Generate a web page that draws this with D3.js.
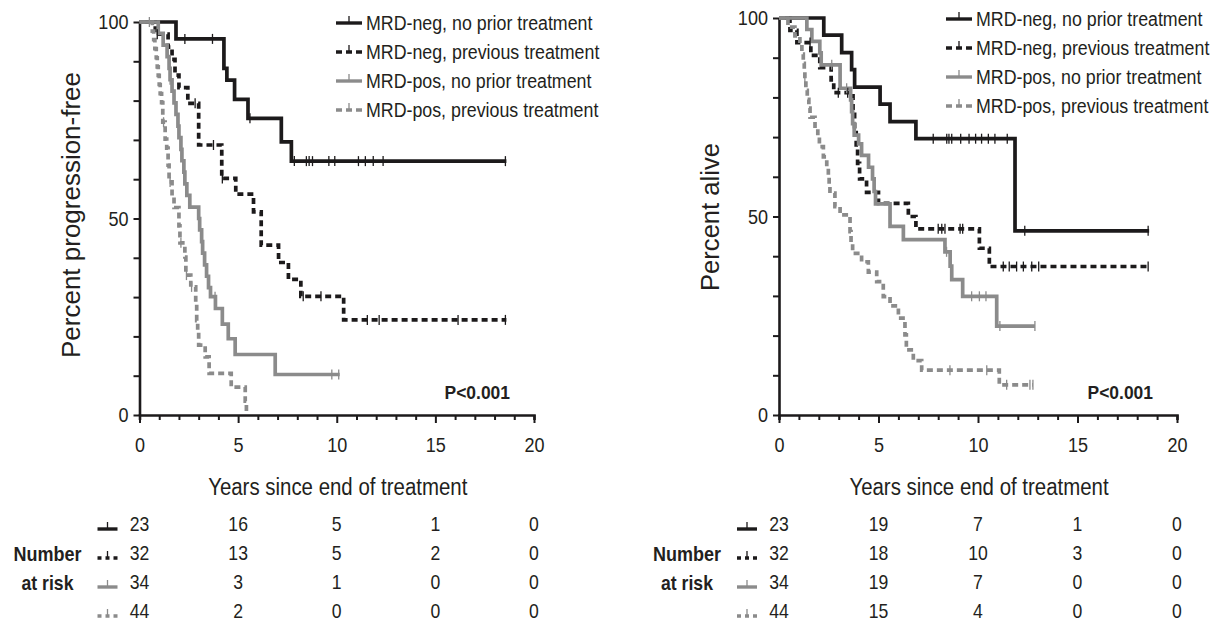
<!DOCTYPE html>
<html>
<head>
<meta charset="utf-8">
<script src="https://cdn.jsdelivr.net/npm/d3@7"></script>
<style>
  body { margin: 0; background: #fff; }
  svg text { font-family: "Liberation Sans", Arial, Helvetica, sans-serif; fill: #231f20; }
</style>
</head>
<body>
<svg id="chart" width="1224" height="625"></svg>
<script>
// ---- Data ---------------------------------------------------------------
const yearTicks = [0, 5, 10, 15, 20];
const groupLabels = [
  "MRD-neg, no prior treatment",
  "MRD-neg, previous treatment",
  "MRD-pos, no prior treatment",
  "MRD-pos, previous treatment"
];

// Progression-free survival: [years, percent after event]
const pfsNegNoPrior = [[1.85, 95.7], [4.28, 88.2], [4.43, 85.2], [4.82, 80.3], [5.5, 75.5], [7.19, 69.5], [7.7, 64.6]];
const pfsNegPrev = [[0.8, 96.9], [1.45, 93.6], [1.65, 90.5], [1.8, 86.5], [2.0, 83.3], [2.45, 79.3], [3.0, 68.7], [4.17, 60.2],
  [4.88, 56.2], [5.78, 51.7], [6.17, 43.2], [7.05, 38.8], [7.55, 34.5], [8.18, 30.2], [10.35, 24.2]];
const pfsPosNoPrior = [[0.95, 97.1], [1.2, 94.1], [1.4, 91.2], [1.5, 88.2], [1.55, 85.3], [1.65, 82.4], [1.75, 79.4], [1.85, 76.5],
  [1.95, 73.5], [2.0, 70.6], [2.1, 67.6], [2.15, 64.7], [2.25, 61.8], [2.3, 58.8], [2.4, 55.9], [2.55, 52.9], [3.0, 50.0],
  [3.05, 47.1], [3.15, 44.1], [3.2, 41.2], [3.3, 38.2], [3.4, 35.3], [3.5, 32.4], [3.6, 30.1], [3.85, 27.1], [4.2, 23.1],
  [4.5, 19.4], [4.85, 15.4], [6.88, 10.3]];
const pfsPosPrev = [[0.65, 97.7], [0.72, 95.5], [0.78, 93.2], [0.85, 90.9], [0.9, 88.6], [0.95, 86.4], [1.0, 84.1], [1.05, 81.8],
  [1.12, 79.5], [1.18, 74.5], [1.3, 70.2], [1.38, 67.9], [1.45, 63.6], [1.5, 59.3], [1.65, 55.5], [1.75, 52.8], [2.0, 48.1],
  [2.05, 43.8], [2.3, 40.2], [2.35, 35.6], [2.6, 32.6], [2.85, 28.4], [2.9, 24.0], [2.95, 21.0], [3.0, 17.8], [3.33, 14.8],
  [3.53, 10.6], [4.65, 7.1], [5.36, 3.5], [5.42, 0]];
const pfsEnd = [18.6, 18.6, 10.15, 5.42];
const pfsNegNoPriorCensor = [2.3, 3.7, 5.6, 7.85, 8.46, 8.6, 8.77, 9.6, 9.9, 11.1, 11.45, 11.85, 12.35, 18.55];
const pfsNegPrevCensor = [0.9, 2.82, 3.75, 4.2, 8.3, 9.2, 11.55, 12.15, 16.15, 18.55];
const pfsPosNoPriorCensor = [0.5, 1.55, 3.83, 9.75, 10.1];
const pfsPosPrevCensor = [1.22, 1.55, 2.1, 2.38, 2.64];

// Overall survival: [years, percent after event]
const osNegNoPrior = [[2.25, 95.7], [3.15, 91.3], [3.65, 87.0], [3.8, 82.6], [5.08, 78.3], [5.58, 73.9], [6.88, 69.6], [11.86, 46.4]];
const osNegPrev = [[0.55, 96.9], [0.9, 93.8], [1.6, 90.6], [2.05, 87.5], [2.62, 84.4], [2.75, 81.2], [3.72, 76.5], [3.8, 72.0],
  [3.88, 67.5], [3.95, 63.4], [4.05, 59.5], [4.4, 56.1], [5.0, 53.3], [6.5, 50.0], [6.88, 46.9], [10.07, 42.0], [10.57, 37.4]];
const osPosNoPrior = [[1.4, 97.1], [1.65, 94.1], [2.05, 91.2], [2.12, 88.2], [3.07, 82.3], [3.6, 79.4], [3.65, 76.4], [3.7, 73.4],
  [3.78, 70.5], [4.0, 68.3], [4.15, 65.4], [4.5, 62.4], [4.7, 59.5], [4.78, 56.3], [4.85, 53.2], [5.58, 47.5], [6.25, 44.2],
  [8.34, 41.1], [8.6, 37.5], [8.68, 34.1], [9.23, 29.9], [10.94, 22.4]];
const osPosPrev = [[0.45, 97.7], [0.8, 95.5], [1.05, 93.2], [1.15, 90.9], [1.22, 88.6], [1.27, 86.4], [1.3, 84.1], [1.35, 81.8],
  [1.42, 79.5], [1.5, 77.3], [1.56, 75.0], [1.81, 72.2], [1.95, 70.0], [2.03, 67.6], [2.23, 65.0], [2.4, 62.5], [2.48, 60.0],
  [2.52, 57.7], [2.56, 55.9], [2.81, 52.5], [3.07, 50.4], [3.57, 46.2], [3.62, 43.5], [3.7, 40.7], [4.15, 38.6], [4.49, 36.0],
  [4.91, 33.6], [5.24, 29.8], [5.58, 27.5], [6.0, 24.4], [6.33, 20.2], [6.4, 16.4], [6.75, 13.7], [7.17, 11.3], [11.07, 7.6]];
const osEnd = [18.6, 18.6, 12.86, 12.76];
const osNegNoPriorCensor = [7.75, 8.43, 8.54, 8.68, 9.13, 9.55, 9.88, 10.18, 10.52, 10.85, 11.47, 12.35, 18.55];
const osNegPrevCensor = [1.56, 2.98, 3.45, 8.0, 8.18, 8.34, 9.1, 9.23, 11.27, 11.57, 11.94, 12.28, 12.7, 13.05, 18.55];
const osPosNoPriorCensor = [2.65, 3.4, 8.42, 9.68, 10.07, 10.4, 11.1, 12.86];
const osPosPrevCensor = [1.3, 8.59, 10.44, 11.44, 12.61, 12.76];

// Number at risk at 0, 5, 10, 15, 20 years
const pfsAtRisk = [[23, 16, 5, 1, 0], [32, 13, 5, 2, 0], [34, 3, 1, 0, 0], [44, 2, 0, 0, 0]];
const osAtRisk = [[23, 19, 7, 1, 0], [32, 18, 10, 3, 0], [34, 19, 7, 0, 0], [44, 15, 4, 0, 0]];

// ---- Styling --------------------------------------------------------------
const BLACK = "#1c1a1b";
const GREY = "#8b8b8b";
const groupStyle = [
  { color: BLACK, dash: null },
  { color: BLACK, dash: "6,4" },
  { color: GREY, dash: null },
  { color: GREY, dash: "6,4" }
];

const svg = d3.select("#chart");

// squeeze text horizontally (condensed face) around its anchor point
function condense(sel, k) {
  sel.each(function () {
    const t = d3.select(this);
    const x0 = +t.attr("x") || 0, y0 = +t.attr("y") || 0;
    t.attr("x", 0).attr("y", 0).attr("transform", `translate(${x0},${y0}) scale(${k},1)`);
  });
  return sel;
}

function valueAt(steps, t) {
  let v = 100;
  for (const [st, sv] of steps) { if (st <= t) v = sv; else break; }
  return v;
}

function drawPanel(p) {
  const g = svg.append("g");
  const x = d3.scaleLinear().domain([0, 20]).range([p.left, p.right]);
  const y = d3.scaleLinear().domain([0, 100]).range([p.bottom, p.top]);

  // y axis: minor ticks every 10, labels at 0/50/100
  const yAxis = g.append("g").attr("transform", `translate(${p.left},0)`)
    .call(d3.axisLeft(y).tickValues(d3.range(0, 101, 10)).tickSize(6).tickSizeOuter(0)
      .tickFormat(d => d % 50 === 0 ? d : ""));
  yAxis.select(".domain").attr("stroke", BLACK).attr("stroke-width", 2.6);
  yAxis.selectAll(".tick line").attr("stroke", BLACK).attr("stroke-width", 2);
  condense(yAxis.selectAll(".tick text").attr("font-size", 21).attr("x", -11).attr("fill", "#231f20"), 0.86);

  // x axis: minor ticks every year, major at 5-year marks
  const xAxis = g.append("g").attr("transform", `translate(0,${p.bottom})`)
    .call(d3.axisBottom(x).tickValues(d3.range(0, 21, 1)).tickSizeOuter(0)
      .tickSize(5).tickFormat(d => d % 5 === 0 ? d : ""));
  xAxis.select(".domain").attr("stroke", BLACK).attr("stroke-width", 2.6);
  xAxis.selectAll(".tick line").attr("stroke", BLACK).attr("stroke-width", 2)
    .attr("y2", d => d % 5 === 0 ? 8 : 5);
  condense(xAxis.selectAll(".tick text").attr("font-size", 21).attr("y", 37).attr("dy", 0)
    .attr("fill", "#231f20"), 0.86);

  // axis titles
  condense(g.append("text").attr("x", (p.left + p.right) / 2 + 1).attr("y", 495)
    .attr("text-anchor", "middle").attr("font-size", 23).text("Years since end of treatment"), 0.888);
  g.append("text").attr("transform", `translate(${p.yTitleX},${p.yTitleY}) rotate(-90)`)
    .attr("text-anchor", "middle").attr("font-size", 25)
    .attr("textLength", p.yTitleLen).attr("lengthAdjust", "spacingAndGlyphs").text(p.yTitle);

  // survival curves
  const line = d3.line().curve(d3.curveStepAfter).x(d => x(d[0])).y(d => y(d[1]));
  p.series.forEach((steps, i) => {
    const pts = [[0, 100], ...steps, [p.ends[i], steps[steps.length - 1][1]]];
    const st = groupStyle[i];
    g.append("path").datum(pts).attr("d", line).attr("fill", "none")
      .attr("stroke", st.color).attr("stroke-width", 3.7)
      .attr("stroke-dasharray", st.dash).attr("stroke-linejoin", "miter");
  });
  // censor marks
  p.censors.forEach((cs, i) => {
    const st = groupStyle[i];
    g.append("g").selectAll("line").data(cs).join("line")
      .attr("x1", d => x(d)).attr("x2", d => x(d))
      .attr("y1", d => y(valueAt(p.series[i], d)) - 5)
      .attr("y2", d => y(valueAt(p.series[i], d)) + 5)
      .attr("stroke", st.color).attr("stroke-width", 1.3);
  });

  // legend
  const lg = g.append("g");
  groupLabels.forEach((lab, i) => {
    const ly = p.legendY + i * 29;
    const st = groupStyle[i];
    lg.append("line").attr("x1", p.legendX).attr("x2", p.legendX + 26).attr("y1", ly).attr("y2", ly)
      .attr("stroke", st.color).attr("stroke-width", 3.4).attr("stroke-dasharray", st.dash ? "6,4" : null);
    lg.append("line").attr("x1", p.legendX + 13).attr("x2", p.legendX + 13).attr("y1", ly - 7).attr("y2", ly)
      .attr("stroke", st.color).attr("stroke-width", 1.3);
    condense(lg.append("text").attr("x", p.legendX + 30).attr("y", ly + 7).attr("font-size", 20).text(lab), 0.89);
  });

  // p value
  condense(g.append("text").attr("x", p.right - 24).attr("y", 399).attr("text-anchor", "end")
    .attr("font-size", 18).attr("font-weight", "bold").text("P<0.001"), 0.97);

  // number at risk table
  const rowY = [524, 553, 582, 611];
  condense(g.append("text").attr("x", p.left - 92).attr("y", 561).attr("text-anchor", "middle")
    .attr("font-size", 20).attr("font-weight", "bold").text("Number"), 0.9);
  condense(g.append("text").attr("x", p.left - 92).attr("y", 590).attr("text-anchor", "middle")
    .attr("font-size", 20).attr("font-weight", "bold").text("at risk"), 0.88);
  p.atRisk.forEach((row, i) => {
    const st = groupStyle[i];
    const sx = p.left - 42;
    g.append("line").attr("x1", sx).attr("x2", sx + 20).attr("y1", rowY[i] + 5).attr("y2", rowY[i] + 5)
      .attr("stroke", st.color).attr("stroke-width", 3.4).attr("stroke-dasharray", st.dash ? "4,4" : null);
    g.append("line").attr("x1", sx + 10).attr("x2", sx + 10).attr("y1", rowY[i] - 2).attr("y2", rowY[i] + 5)
      .attr("stroke", st.color).attr("stroke-width", 1.3);
    condense(g.append("g").selectAll("text").data(row).join("text")
      .attr("x", (d, j) => x(yearTicks[j])).attr("y", rowY[i] + 7)
      .attr("text-anchor", "middle").attr("font-size", 20).text(d => d), 0.88);
  });
}

drawPanel({
  left: 139.5, right: 534, top: 22, bottom: 415,
  yTitle: "Percent progression-free", yTitleX: 80, yTitleY: 215, yTitleLen: 286,
  series: [pfsNegNoPrior, pfsNegPrev, pfsPosNoPrior, pfsPosPrev], ends: pfsEnd,
  censors: [pfsNegNoPriorCensor, pfsNegPrevCensor, pfsPosNoPriorCensor, pfsPosPrevCensor],
  legendX: 336, legendY: 23, atRisk: pfsAtRisk
});
drawPanel({
  left: 779, right: 1177, top: 18, bottom: 415,
  yTitle: "Percent alive", yTitleX: 719, yTitleY: 217, yTitleLen: 148,
  series: [osNegNoPrior, osNegPrev, osPosNoPrior, osPosPrev], ends: osEnd,
  censors: [osNegNoPriorCensor, osNegPrevCensor, osPosNoPriorCensor, osPosPrevCensor],
  legendX: 946, legendY: 19, atRisk: osAtRisk
});
</script>
</body>
</html>
